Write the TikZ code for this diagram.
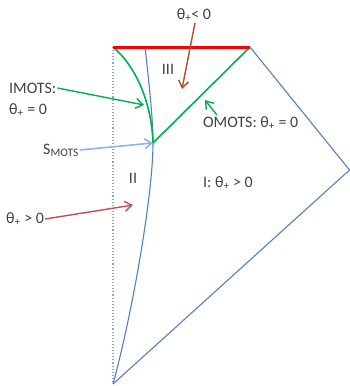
\documentclass[tikz,border=0pt]{standalone}
\usepackage{fontspec}
\setmainfont{Carlito}
\usetikzlibrary{positioning,arrows.meta,calc}
\definecolor{edgeblue}{RGB}{79,129,189}
\definecolor{paleblue}{RGB}{142,180,227}
\definecolor{motsgreen}{RGB}{0,176,80}
\definecolor{tipbrown}{RGB}{176,80,40}
\definecolor{tipred}{RGB}{192,80,77}
\definecolor{txtgray}{RGB}{64,64,64}
\newcommand{\thp}{θ\textsubscript{+}}
\tikzset{
  lbl/.style={text=txtgray,inner sep=1pt,font=\fontsize{16}{19}\selectfont},
  rand/.style={draw=edgeblue,line width=1.1bp},
  hor/.style={draw=motsgreen,line width=1.6bp},
  pfeil/.style={-{Straight Barb[length=7bp,width=10bp]},line width=1.4bp},
}

\begin{document}
\begin{tikzpicture}[x=1bp,y=-1bp]
  \useasboundingbox (0,0) rectangle (350,386);
  % corners of the diagram
  \coordinate (tl) at (113,47);
  \coordinate (tr) at (250,47);
  \coordinate (rt) at (349.5,170);
  \coordinate (bt) at (113,384);
  \coordinate (smots) at (153,143);
  % boundary
  \draw[rand] (tr) -- (rt) -- (bt);
  \draw[edgeblue!70,line width=1.1bp,dotted] (tl) -- (bt);
  \draw[rand] (145,47) .. controls (151,100) and (153,125) .. (smots)
    .. controls (153,195) and (132,315) .. (bt);
  \draw[hor] (tl) .. controls (140,70) and (152,110) .. (smots);
  \draw[hor] (smots) -- (tr);
  \draw[red,line width=3bp] (tl) -- (tr);
  % labels
  \node[lbl] (tneg) at (194,15) {\thp< 0};
  \node[lbl] (r3) at (168,69) {III};
  \node[lbl,anchor=west] (imots) at (8,88) {IMOTS:};
  \node[lbl,anchor=west] (imotsval) at (8,110) {\thp{} = 0};
  \node[lbl,anchor=west] (omots) at (202,123) {OMOTS: \thp{} = 0};
  \node[lbl,anchor=west] (slbl) at (42,150) {S\raisebox{-0.25ex}{\fontsize{11.5}{12}\selectfont MOTS}};
  \node[lbl] (r2) at (133,178) {II};
  \node[lbl] (r1) at (228,183) {I: \thp{} > 0};
  \node[lbl,anchor=west] (tpos) at (5,219) {\thp{} > 0};
  % arrow tips
  \coordinate (tnegTip) at (182,89);
  \coordinate (imotsTip) at (144,105);
  \coordinate (omotsTip) at (205,100);
  \coordinate (tposTip) at (133,205);
  % arrows
  \draw[pfeil,tipbrown] ([xshift=1bp]tneg.south) -- (tnegTip);
  \draw[pfeil,motsgreen] (imots.east) -- (imotsTip);
  \draw[pfeil,motsgreen] ([xshift=15bp]omots.north west) -- (omotsTip);
  \draw[pfeil,paleblue,line width=1.6bp] (slbl.east) -- (smots);
  \draw[pfeil,tipred] (tpos.east) -- (tposTip);
\end{tikzpicture}
\end{document}
